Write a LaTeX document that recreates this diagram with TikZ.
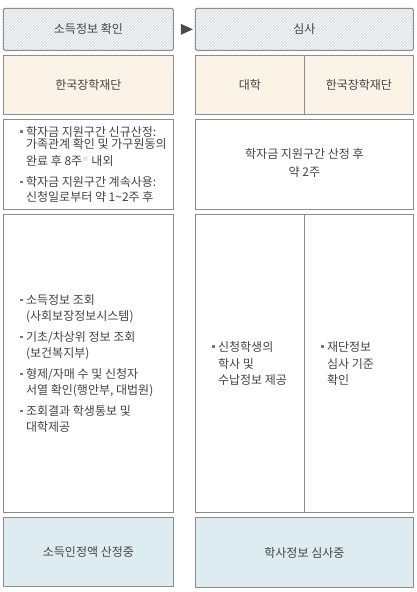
\documentclass[tikz,border=0pt]{standalone}
\usepackage{fontspec}
\setmainfont{Noto Sans CJK KR}
\usetikzlibrary{positioning,patterns,shapes.geometric,calc}
\definecolor{boxline}{HTML}{8C8C8C}
\definecolor{hdrbg}{HTML}{DFE1E8}
\definecolor{creambg}{HTML}{FBF3E8}
\definecolor{resbg}{HTML}{DEECF1}
\definecolor{txtgray}{HTML}{444444}
\definecolor{bulgray}{HTML}{777777}
\definecolor{arrowgray}{HTML}{4A4A4A}
\definecolor{refred}{HTML}{E88A8A}
\newcommand{\sqb}{\makebox[6pt][l]{\textcolor{bulgray}{\rule[0.3em]{2.5pt}{2.5pt}}}}
\newcommand{\ind}{\hspace*{6pt}}
\newcommand{\refmark}{\raisebox{4pt}{\fontsize{6.5}{6.5}\selectfont\color{refred}※}}

\begin{document}
\begin{tikzpicture}[x=1pt,y=-1pt,
                    node distance=5pt,
                    box/.style={rectangle,draw=boxline,line width=1.1pt,outer sep=0pt,inner sep=0pt,
                                text=txtgray,font=\fontsize{12}{15.5}\selectfont},
                    hdr/.style={box,rounded corners=2pt,preaction={fill=hdrbg},
                                pattern=north east lines,pattern color=white,minimum height=42pt},
                    org/.style={box,fill=creambg,minimum height=59pt},
                    plain/.style={box,fill=white},
                    res/.style={box,fill=resbg},
                    txt/.style={inner sep=0pt,align=left,text=txtgray,font=\fontsize{12}{15.5}\selectfont},
                    ]
\useasboundingbox[fill=white] (0,0) rectangle (417,592);

% headers
\node[hdr,minimum width=170pt] (hdrL) at (88.4,29.3) {소득정보 확인};
\node[hdr,minimum width=218pt] (hdrR) at (304.4,29.3) {심사};
\node[isosceles triangle,isosceles triangle stretches,fill=arrowgray,inner sep=0pt,
      minimum width=11pt,minimum height=12pt] (arrow) at ($(hdrL.east)!0.5!(hdrR.west)$) {};

% organisations
\node[org,minimum width=170pt,below=of hdrL] (orgL) {한국장학재단};
\node[org,minimum width=109pt,below=of hdrR.south west,anchor=north west] (orgR1) {대학};
\node[org,minimum width=109pt,right=0pt of orgR1] (orgR2) {한국장학재단};

% periods
\node[plain,minimum width=170pt,minimum height=90pt,below=of orgL] (infoL) {};
\node[txt,right=16.5pt of infoL.west] (infoLtxt)
  {\sqb 학자금 지원구간 신규산정:\\[-3.5pt]
   \ind 가족관계 확인 및 가구원동의\\[2pt]
   \ind 완료 후 8주\refmark{} 내외\\[5.5pt]
   \sqb 학자금 지원구간 계속사용:\\[-1pt]
   \ind 신청일로부터 약 1\textasciitilde 2주 후};
\node[plain,minimum width=218pt,minimum height=90pt,below=of orgR1.south west,anchor=north west] (infoR)
  {\begin{tabular}{@{}c@{}}학자금 지원구간 산정 후\\[2.5pt] 약 2주\end{tabular}};

% procedures
\node[plain,minimum width=170pt,minimum height=298.5pt,below=of infoL] (procL) {};
\node[txt,right=16.5pt of procL.west] (procLtxt)
  {\sqb 소득정보 조회\\
   \ind (사회보장정보시스템)\\[6pt]
   \sqb 기초/차상위 정보 조회\\
   \ind (보건복지부)\\[6pt]
   \sqb 형제/자매 수 및 신청자\\
   \ind 서열 확인(행안부, 대법원)\\[6pt]
   \sqb 조회결과 학생통보 및\\
   \ind 대학제공};
\node[plain,minimum width=109pt,minimum height=298.5pt,below=of infoR.south west,anchor=north west] (procR1) {};
\node[plain,minimum width=109pt,minimum height=298.5pt,right=0pt of procR1] (procR2) {};
\node[txt,right=16.5pt of procR1.west] (procR1txt)
  {\sqb 신청학생의\\[1pt] \ind 학사 및\\[1pt] \ind 수납정보 제공};
\node[txt,right=16.5pt of procR2.west] (procR2txt)
  {\sqb 재단정보\\[1pt] \ind 심사 기준\\[1pt] \ind 확인};

% results
\node[res,minimum width=170pt,minimum height=69pt,below=of procL] (resL) {소득인정액 산정중};
\node[res,minimum width=218pt,minimum height=70pt,below=of procR1.south west,anchor=north west] (resR) {학사정보 심사중};
\end{tikzpicture}
\end{document}
